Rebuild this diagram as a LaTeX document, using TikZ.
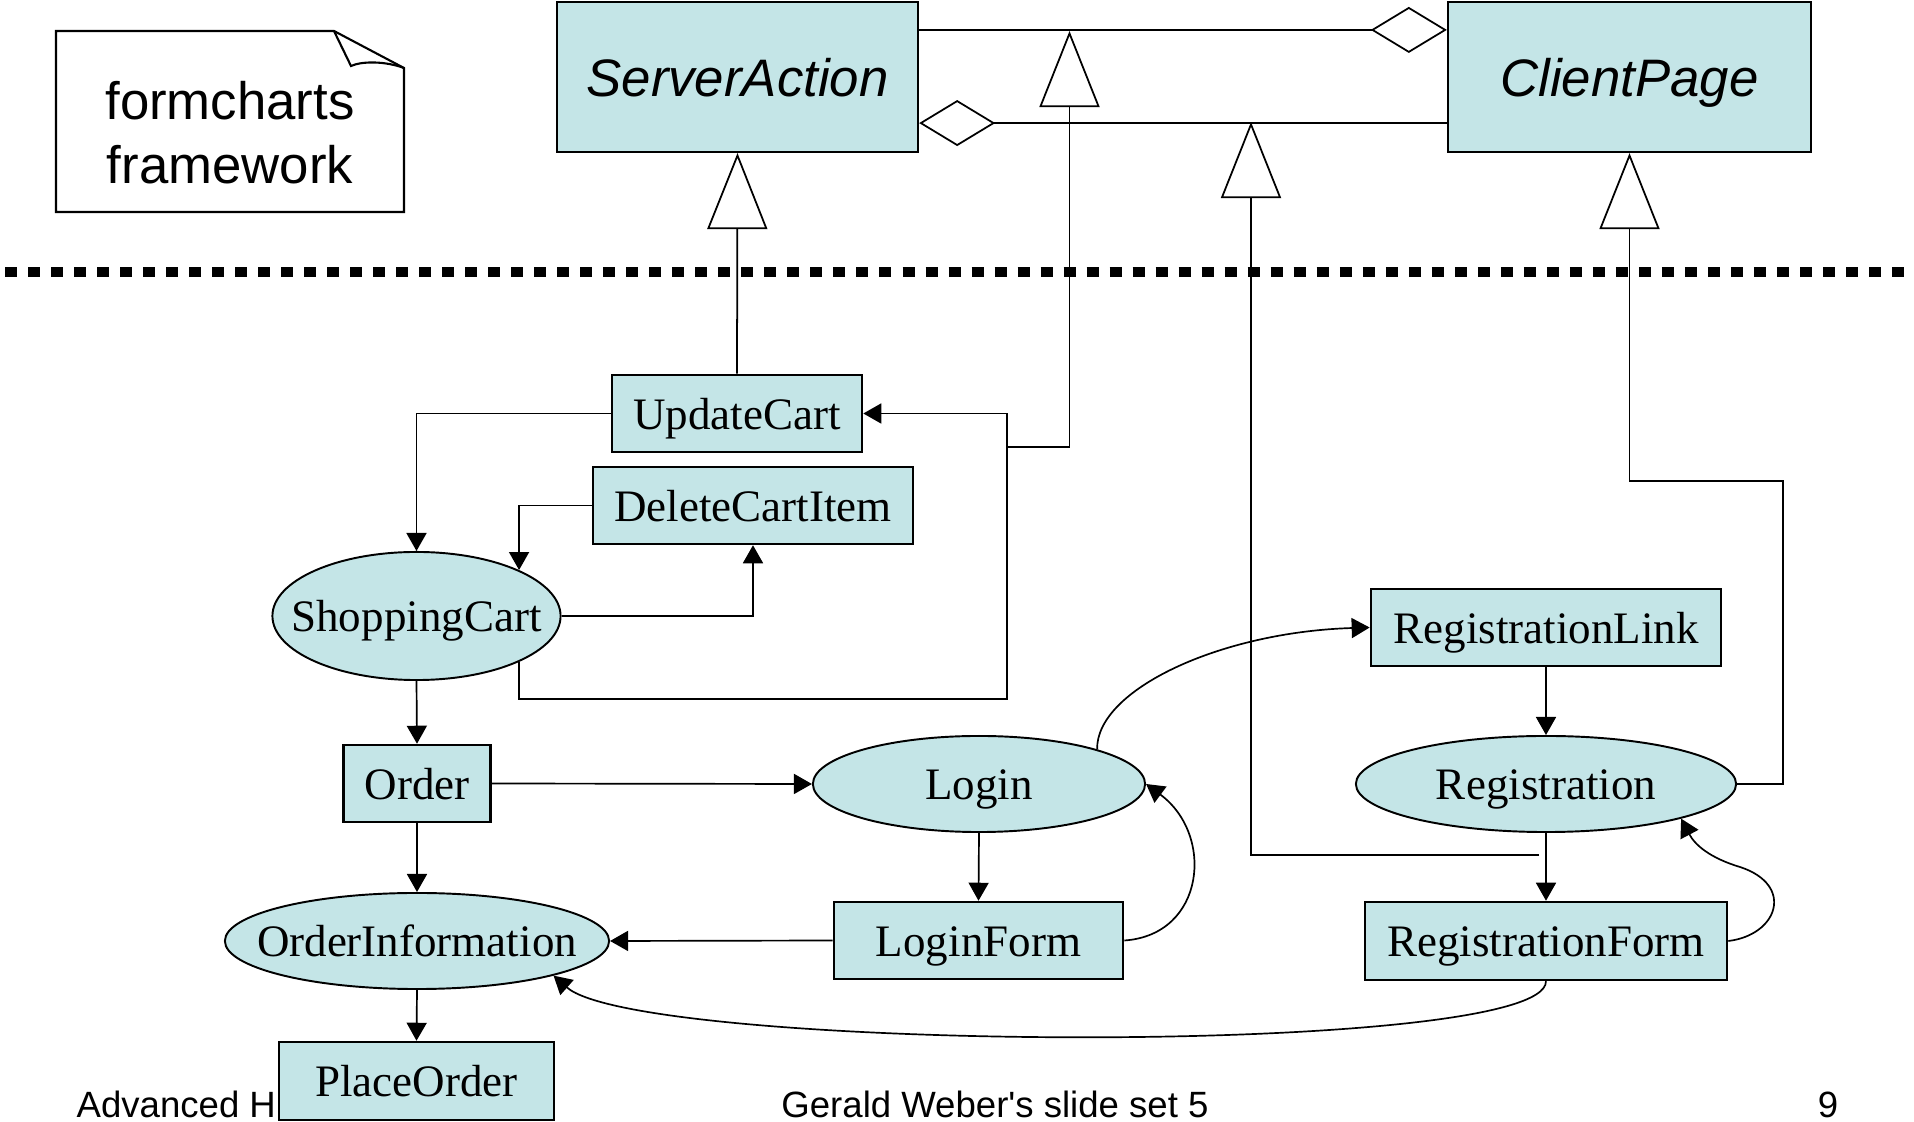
\documentclass[tikz,border=0pt]{standalone}
\usepackage{fontspec}
\setmainfont{Liberation Serif}
\setsansfont{Liberation Sans}
\newfontfamily\footfont{Liberation Sans}[Ligatures=TeXOff]
\usetikzlibrary{arrows.meta,shapes.geometric}
\definecolor{nodefill}{RGB}{196,229,231}
% zero-width text so an ellipse keeps exactly its given size
\newcommand{\zw}[1]{\makebox[0pt]{#1}}

\begin{document}
\begin{tikzpicture}[x=0.01cm,y=-0.01cm,
  graphtext/.style={font=\fontsize{12.8}{15}\selectfont, text height=0.31cm, text depth=0pt, inner sep=0pt},
  statebox/.style={graphtext, rectangle, draw, fill=nodefill, line width=0.7pt},
  statenode/.style={graphtext, ellipse, draw, fill=nodefill, line width=0.55pt},
  flow/.style={line width=0.48pt, -{Triangle[length=0.18cm,width=0.2cm]}},
  classbox/.style={rectangle, draw, fill=nodefill, line width=0.6pt, inner sep=0pt,
    font=\sffamily\itshape\fontsize{15}{18}\selectfont, text height=0.38cm, text depth=0pt},
  inherit/.style={line width=0.5pt, -{Triangle[open,length=0.76cm,width=0.6cm]}},
  aggr/.style={line width=0.5pt},
  notetext/.style={font=\sffamily\fontsize{15}{18}\selectfont, inner sep=0pt, anchor=base},
  footer/.style={font=\footfont\fontsize{10.4}{12}\selectfont, inner sep=0pt}
]
\useasboundingbox (0,0) rectangle (1914,1122);

% separator between framework and application
\draw[line width=0.105cm, dash pattern=on 0.12cm off 0.11cm] (5,272) -- (1914,272);

% note with folded corner
\draw[line width=0.6pt, fill=white] (56,31) -- (334,31) -- (404,68) -- (404,212) -- (56,212) -- cycle;
\draw[line width=0.6pt] (334,31) -- (351,66) .. controls (362,61) and (385,61) .. (404,68);
\node[notetext] (noteA) at (230,120) {formcharts};
\node[notetext] (noteB) at (230,184) {framework};

% framework classes
\node[classbox, minimum width=3.61cm, minimum height=1.50cm] (ServerAction) at (737.5,77) {ServerAction};
\node[classbox, minimum width=3.63cm, minimum height=1.50cm] (ClientPage) at (1629.5,77) {ClientPage};

% footer
\node[footer, anchor=base west] (footleft) at (76,1118) {Advanced H};
\node[footer, anchor=base] (footmid) at (995,1118) {Gerald Weber's slide set 5};
\node[footer, anchor=base] (footpage) at (1828,1118) {9};

% application states
\node[statebox, minimum width=2.50cm, minimum height=0.77cm] (UpdateCart) at (737,413.5) {UpdateCart};
\node[statebox, minimum width=3.20cm, minimum height=0.77cm] (DeleteCartItem) at (753,505.5) {DeleteCartItem};
\node[statenode, minimum width=2.88cm, minimum height=1.28cm] (ShoppingCart) at (416.5,616) {\zw{ShoppingCart}};
\node[statebox, minimum width=1.47cm, minimum height=0.77cm] (Order) at (417,783.5) {Order};
\node[statenode, minimum width=3.32cm, minimum height=0.96cm] (Login) at (979,784) {\zw{Login}};
\node[statenode, minimum width=3.84cm, minimum height=0.96cm] (OrderInformation) at (417,941) {\zw{OrderInformation}};
\node[statebox, minimum width=2.89cm, minimum height=0.77cm] (LoginForm) at (978.5,940.5) {LoginForm};
\node[statebox, minimum width=2.75cm, minimum height=0.78cm] (PlaceOrder) at (416.5,1081) {PlaceOrder};
\node[statebox, minimum width=3.50cm, minimum height=0.77cm] (RegistrationLink) at (1546,627.5) {RegistrationLink};
\node[statenode, minimum width=3.80cm, minimum height=0.96cm] (Registration) at (1546,784) {\zw{Registration}};
\node[statebox, minimum width=3.62cm, minimum height=0.78cm] (RegistrationForm) at (1546,941) {RegistrationForm};

% aggregations between the framework classes
\draw[aggr, -{Diamond[open,length=0.76cm,width=0.46cm]}]
  ([yshift=-0.29cm]ServerAction.north east) -- ([yshift=-0.29cm]ClientPage.north west);
\draw[aggr, {Diamond[open,length=0.76cm,width=0.46cm]}-]
  ([yshift=0.30cm]ServerAction.south east) -- ([yshift=0.30cm]ClientPage.south west);

% generalizations
\coordinate (g2foot) at (1008,447);
\coordinate (g2head) at (1069.5,31);
\coordinate (g3foot) at (1539,855);
\coordinate (g3head) at (1251,122);
\coordinate (g4bend) at (1783,481);
\draw[inherit] (UpdateCart.north) -- (ServerAction.south);
\draw[inherit] (g2foot) -| (g2head);
\draw[inherit] (g3foot) -| (g3head);
\draw[inherit] (Registration.east) -| (g4bend) -| (ClientPage.south);

% transitions
\coordinate (cartloop) at (1007,699);
\draw[flow] (UpdateCart.west) -| (ShoppingCart.north);
\draw[flow] (DeleteCartItem.west) -| (ShoppingCart.north east);
\draw[flow] (ShoppingCart.east) -| (DeleteCartItem.south);
\draw[flow] (ShoppingCart.south east) |- (cartloop) |- (UpdateCart.east);
\draw[flow] (ShoppingCart.south) -- (Order.north);
\draw[flow] (Order.east) -- (Login.west);
\draw[flow] (Order.south) -- (OrderInformation.north);
\draw[flow] (OrderInformation.south) -- (PlaceOrder.north);
\draw[flow] (Login.south) -- (LoginForm.north);
\draw[flow] (LoginForm.west) -- (OrderInformation.east);
\draw[flow] (LoginForm.east) .. controls (1205,935) and (1215,835) .. (Login.east);
\draw[flow] (Login.north east) .. controls (1096,690) and (1220,632) .. (RegistrationLink.west);
\draw[flow] (RegistrationLink.south) -- (Registration.north);
\draw[flow] (Registration.south) -- (RegistrationForm.north);
\draw[flow] (RegistrationForm.east) .. controls (1778,935) and (1795,885) .. (1740,867)
  .. controls (1710,858) and (1695,845) .. (Registration.south east);
\draw[flow] (RegistrationForm.south) .. controls (1546,1058) and (640,1052) .. (OrderInformation.south east);
\end{tikzpicture}
\end{document}
